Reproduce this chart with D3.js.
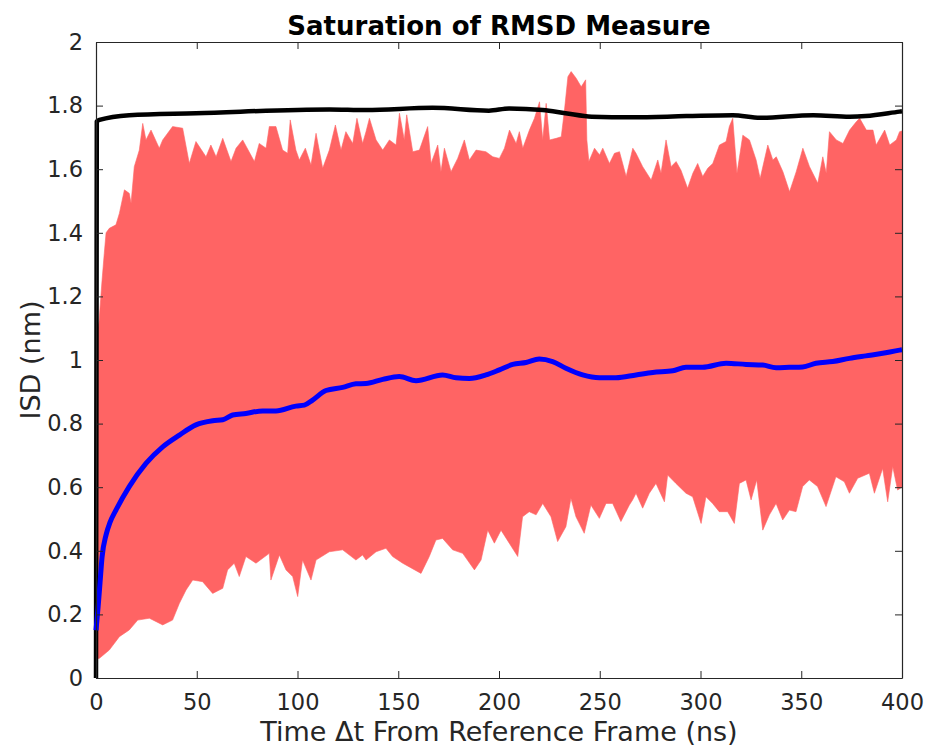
<!DOCTYPE html>
<html>
<head>
    <title>Saturation of RMSD Measure</title>
    <meta charset="utf-8">
    <style>
        body { margin: 0; background: #fff; }
        svg { position: absolute; left: 0; top: 0; }
        text { font-family: "DejaVu Sans", sans-serif; fill: #262626; }
    </style>
</head>
<body>
    <svg width="927" height="747"></svg>

    <script src="https://cdn.jsdelivr.net/npm/d3@7"></script>
    <script>

    // upper envelope of the red band (time ns, ISD nm)
    var upperT = [0, 0.3, 1.5, 3, 4.1, 5, 6.6, 9.9, 11.6, 14.1, 16.5, 17.4, 19, 21.5, 23.2, 24.8, 27.3, 31.4, 33.1, 38, 43, 46.3, 49.6, 54.6, 57, 59.6, 62.9, 67, 69.5, 72.8, 78.6, 81, 84.4, 86, 89.3, 92.6, 95.1, 96.4, 99.2, 100.9, 103.9, 106.7, 109.2, 112.5, 115.8, 118.8, 121.6, 124, 127.4, 129.5, 132.3,
        134, 135.7, 139, 142.3, 145.6, 148.9, 150.6, 153, 154.2, 157.2, 160.5, 164.6, 166.3, 169.6, 171.2, 172.9, 176.2, 179.5, 182.8, 185.3, 188.6, 193.5, 196.9, 200.2, 202.7, 205.2, 208.5, 210.1, 211.8, 215.1, 217.6, 220.1, 221.7, 223.4, 225.1, 228.4, 230.9, 232.5, 234.2, 235.8, 238.3, 240.8, 243, 243.6, 244.6, 247.4, 249.9, 251.5, 254.8, 257.3, 259.8, 263.1, 266.4,
        268, 271.3, 275.5, 278.8, 280.4, 282.9, 285.4, 287.9, 290.3, 293.6, 296.2, 298.6, 301.1, 303.6, 306.1, 309.4, 312.7, 314.3, 316, 318.1, 321, 324.3, 327.6, 329.6, 333.4, 335.9, 337.6, 340.9, 344.2, 347.5, 350.8, 354.1, 358.2, 360.7, 362.4, 364, 367.4, 370.7, 374, 377.3, 379, 382.3, 385.6, 387.2, 391.4, 393.9, 397.2, 398.8, 400];
    var upperV = [1.0, 1.08, 1.12, 1.25, 1.335, 1.40, 1.414, 1.425, 1.461, 1.535, 1.524, 1.493, 1.608, 1.660, 1.744, 1.692, 1.723, 1.666, 1.692, 1.734, 1.729, 1.618, 1.687, 1.639, 1.676, 1.639, 1.697, 1.624, 1.666, 1.692, 1.624, 1.681, 1.666, 1.734, 1.734, 1.660, 1.650, 1.755, 1.660, 1.629, 1.666, 1.613, 1.713, 1.603, 1.660, 1.739, 1.660, 1.718, 1.681, 1.760, 1.681,
        1.718, 1.760, 1.692, 1.660, 1.692, 1.676, 1.776, 1.692, 1.771, 1.655, 1.660, 1.734, 1.618, 1.676, 1.592, 1.666, 1.592, 1.634, 1.692, 1.629, 1.660, 1.655, 1.639, 1.634, 1.666, 1.723, 1.681, 1.718, 1.666, 1.723, 1.760, 1.812, 1.692, 1.807, 1.692, 1.697, 1.702, 1.786, 1.891, 1.907, 1.886, 1.859, 1.881, 1.692, 1.624, 1.666, 1.645, 1.666, 1.618, 1.650, 1.655, 1.577, 1.666,
        1.650, 1.608, 1.566, 1.629, 1.587, 1.692, 1.608, 1.624, 1.597, 1.540, 1.587, 1.618, 1.577, 1.603, 1.618, 1.676, 1.687, 1.734, 1.760, 1.587, 1.707, 1.692, 1.629, 1.571, 1.676, 1.629, 1.639, 1.592, 1.529, 1.592, 1.666, 1.608, 1.556, 1.639, 1.587, 1.718, 1.692, 1.681, 1.723, 1.749, 1.760, 1.723, 1.723, 1.676, 1.723, 1.676, 1.692, 1.718, 1.72];

    // lower envelope of the red band
    var lowerT = [0, 1.7, 6.6, 11.6, 16.5, 20.7, 26.5, 33.1, 38, 41.4, 44.7, 48, 52.9, 57.9, 62.9, 65.3, 68.6, 71.1, 74.4, 79.4, 86, 86.8, 91, 94.3, 97.6, 100.1, 102.5, 106.7, 109.2, 115.8, 122.4, 129, 132.3,
        134, 139, 143.9, 147.2, 152.2, 161.3, 165.4, 168.7, 172, 177, 182, 187.8, 191.1, 194.4, 197.7, 201, 205.1, 209.3, 211.7, 215, 218.4, 221.7, 225.8, 229.1, 233.2, 235.7, 238.2, 242.3, 245.6, 249.8, 253.1, 256.4, 260.5, 264.7, 266.3,
        268, 271.3, 274.6, 277.9, 282.1, 283.7, 287.8, 292.8, 296.1, 300.3, 302.7, 306, 309.3, 313.5, 316.8, 319.3, 322.6, 325.1, 327.9, 330.9, 334.2, 337.5, 340.8, 344.1, 347.4, 350.7, 354, 358.1, 362.3, 367.2, 371.4, 373.9, 378, 383.8, 386.3, 390.4, 392.9, 395.4, 397.8, 400];
    var lowerV = [0.06, 0.062, 0.088, 0.130, 0.151, 0.182, 0.188, 0.167, 0.182, 0.235, 0.277, 0.308, 0.303, 0.266, 0.282, 0.340, 0.361, 0.319, 0.382, 0.361, 0.392, 0.308, 0.387, 0.340, 0.319, 0.256, 0.371, 0.308, 0.371, 0.397, 0.403, 0.371, 0.387,
        0.371, 0.397, 0.408, 0.382, 0.361, 0.329, 0.382, 0.434, 0.439, 0.403, 0.392, 0.340, 0.371, 0.465, 0.424, 0.465, 0.424, 0.382, 0.507, 0.523, 0.513, 0.549, 0.507, 0.429, 0.476, 0.565, 0.507, 0.455, 0.544, 0.502, 0.549, 0.549, 0.492, 0.544, 0.560,
        0.581, 0.534, 0.581, 0.612, 0.554, 0.638, 0.612, 0.581, 0.570, 0.486, 0.570, 0.549, 0.523, 0.523, 0.486, 0.612, 0.623, 0.560, 0.623, 0.465, 0.513, 0.549, 0.497, 0.528, 0.523, 0.602, 0.623, 0.602, 0.539, 0.633, 0.617, 0.581, 0.628, 0.644, 0.581, 0.659, 0.554, 0.665, 0.591, 0.60];

    // black curve
    var maxT = [0, 0.4, 1.7, 16.5, 49.6, 115.8, 134, 167, 195, 205, 221.7, 233, 246, 266, 293, 316, 329.6, 356, 374, 382, 398.8, 400];
    var maxV = [0, 1.75, 1.755, 1.770, 1.776, 1.788, 1.786, 1.793, 1.784, 1.791, 1.786, 1.776, 1.765, 1.763, 1.767, 1.770, 1.762, 1.770, 1.765, 1.767, 1.781, 1.782];

    // blue curve
    var meanT = [0, 1, 2, 3, 5, 7, 9.9, 16.5, 24.8, 33.1, 41.4, 49.6, 57.9, 62.9, 67.8, 74.4, 82.7, 89.3, 99.2, 103.4, 107.5, 114.1, 122.4, 129, 134, 142.3, 150.5, 158.8, 172, 178.7, 185.3, 193.5, 200.2, 206.8, 213.4, 220, 226.6, 233.2, 241.5, 249.8, 258, 268, 276.3, 286.2, 292.8, 301, 312.7, 322.6, 330.9, 337.5, 344, 350.7, 357.3, 365.6, 373.9, 382, 390.4, 398.8, 400];
    var meanV = [0.15, 0.22, 0.30, 0.38, 0.45, 0.49, 0.528, 0.602, 0.675, 0.727, 0.764, 0.796, 0.809, 0.812, 0.827, 0.832, 0.840, 0.840, 0.855, 0.858, 0.874, 0.904, 0.914, 0.925, 0.926, 0.939, 0.948, 0.935, 0.953, 0.944, 0.942, 0.953, 0.969, 0.986, 0.992, 1.003, 0.995, 0.974, 0.953, 0.944, 0.944, 0.953, 0.961, 0.966, 0.977, 0.977, 0.990, 0.986, 0.984, 0.976, 0.977, 0.978, 0.990, 0.995, 1.005, 1.013, 1.021, 1.031, 1.032];

    var xTicks = [0, 50, 100, 150, 200, 250, 300, 350, 400],
        yTicks = [0, 0.2, 0.4, 0.6, 0.8, 1, 1.2, 1.4, 1.6, 1.8, 2];

    var svg = d3.select("svg"),
        plotLeft = 96, plotTop = 42, plotRight = 902, plotBottom = 678;

    var x = d3.scaleLinear().domain([0, 400]).range([plotLeft, plotRight]),
        y = d3.scaleLinear().domain([0, 2]).range([plotBottom, plotTop]);

    function pairs(t, v) {
        return t.map(function(d, i) { return [d, v[i]]; });
    }

    var line = d3.line()
        .x(function(d) { return x(d[0]); })
        .y(function(d) { return y(d[1]); });

    var smooth = d3.line()
        .curve(d3.curveMonotoneX)
        .x(function(d) { return x(d[0]); })
        .y(function(d) { return y(d[1]); });

    // red band: upper edge forward, lower edge back
    var band = pairs(upperT, upperV).concat(pairs(lowerT, lowerV).reverse());
    svg.append("path")
        .attr("d", line(band) + "Z")
        .attr("fill", "#ff6464")
        .attr("stroke", "#ff6464")
        .attr("stroke-width", 0.6);

    svg.append("path")
        .attr("d", smooth(pairs(maxT, maxV)))
        .attr("fill", "none")
        .attr("stroke", "#000")
        .attr("stroke-width", 4.5)
        .attr("stroke-linejoin", "round");

    svg.append("path")
        .attr("d", smooth(pairs(meanT, meanV)))
        .attr("fill", "none")
        .attr("stroke", "#0000ff")
        .attr("stroke-width", 5)
        .attr("stroke-linejoin", "round");

    // axes (ticks point inward, mirrored on top/right)
    svg.append("g")
        .attr("transform", "translate(0," + plotBottom + ")")
        .call(d3.axisBottom(x).tickValues(xTicks).tickSizeInner(-7).tickSizeOuter(0).tickPadding(16));
    svg.append("g")
        .attr("transform", "translate(0," + plotTop + ")")
        .call(d3.axisTop(x).tickValues(xTicks).tickSizeInner(-7).tickSizeOuter(0).tickFormat(""));
    svg.append("g")
        .attr("transform", "translate(" + plotLeft + ",0)")
        .call(d3.axisLeft(y).tickValues(yTicks).tickSizeInner(-7).tickSizeOuter(0).tickPadding(13).tickFormat(d3.format("~g")));
    svg.append("g")
        .attr("transform", "translate(" + plotRight + ",0)")
        .call(d3.axisRight(y).tickValues(yTicks).tickSizeInner(-7).tickSizeOuter(0).tickFormat(""));

    svg.selectAll(".domain").attr("stroke", "#262626").attr("stroke-width", 1.2);
    svg.selectAll(".tick line").attr("stroke", "#262626").attr("stroke-width", 1);
    svg.selectAll(".tick text")
        .style("font-family", "'DejaVu Sans', sans-serif")
        .style("font-size", "22.5px")
        .attr("fill", "#262626");

    svg.append("text")
        .attr("x", (plotLeft + plotRight) / 2)
        .attr("y", 35)
        .attr("text-anchor", "middle")
        .style("font-size", "26px")
        .style("font-weight", "bold")
        .style("fill", "#000")
        .text("Saturation of RMSD Measure");

    svg.append("text")
        .attr("x", (plotLeft + plotRight) / 2)
        .attr("y", 741)
        .attr("text-anchor", "middle")
        .style("font-size", "27px")
        .text("Time \u0394t From Reference Frame (ns)");

    svg.append("text")
        .attr("transform", "translate(40," + ((plotTop + plotBottom) / 2) + ") rotate(-90)")
        .attr("text-anchor", "middle")
        .style("font-size", "27px")
        .text("ISD (nm)");

    </script>
</body>
</html>
